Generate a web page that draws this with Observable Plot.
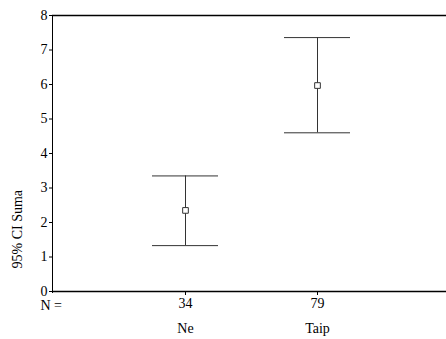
<!DOCTYPE html>
<html>
<head>
<meta charset="utf-8">
<script src="https://cdn.jsdelivr.net/npm/d3@7"></script>
<script src="https://cdn.jsdelivr.net/npm/@observablehq/plot@0.6"></script>
<style>
  html, body { margin: 0; padding: 0; background: #fff; overflow: hidden; }
  #chart svg { display: block; font-family: "Liberation Serif", "Times New Roman", serif; }
</style>
</head>
<body>
<div id="chart"></div>
<script>
const groups = ["Ne", "Taip"];
const nValues = [34, 79];
const means = [2.35, 5.97];
const lower = [1.33, 4.60];
const upper = [3.35, 7.36];
const yTicks = [0, 1, 2, 3, 4, 5, 6, 7, 8];
const yLabel = "95% CI Suma";
const nLabel = "N =";

const data = groups.map((g, i) => ({group: g, n: nValues[i], mean: means[i], lo: lower[i], hi: upper[i]}));
const nByGroup = new Map(groups.map((g, i) => [g, nValues[i]]));

const serif = "Liberation Serif";
const ink = "#333";

const chart = Plot.plot({
  width: 446,
  height: 339,
  marginLeft: 52,
  marginRight: 0,
  marginTop: 15,
  marginBottom: 47,
  style: {fontFamily: serif, fontSize: "14px", color: "#000", background: "#fff"},
  x: {type: "band", domain: groups, range: [52, 449.5], paddingInner: 0.5, paddingOuter: 0.75, align: 0.5},
  y: {domain: [0, 8], range: [291, 15], ticks: yTicks, tickSize: 3, tickPadding: 2, label: null, line: true, tickFormat: d => d, fontSize: 14},
  marks: [
    Plot.ruleY([0, 8], {stroke: "#000", strokeWidth: 1.3}),
    Plot.axisX({tickSize: 3, tickPadding: 3, label: null, tickFormat: g => nByGroup.get(g), fontSize: 14, fontFamily: serif}),
    Plot.axisX({tickSize: 0, tickPadding: 31, label: null, fontSize: 14, fontFamily: serif}),
    Plot.text([nLabel], {frameAnchor: "bottom-left", textAnchor: "start", lineAnchor: "middle", dx: -12, dy: 13, fontSize: 14, fontFamily: serif}),
    Plot.text([yLabel], {frameAnchor: "bottom-left", rotate: -90, textAnchor: "start", lineAnchor: "middle", dx: -35, dy: -24, fontSize: 14, fontFamily: serif}),
    Plot.ruleX(data, {x: "group", y1: "lo", y2: "hi", stroke: ink, strokeWidth: 1}),
    Plot.tickY(data, {x: "group", y: "lo", stroke: ink, strokeWidth: 1}),
    Plot.tickY(data, {x: "group", y: "hi", stroke: ink, strokeWidth: 1}),
    Plot.dot(data, {x: "group", y: "mean", symbol: "square", r: 3.2, stroke: ink, fill: "#fff", strokeWidth: 1})
  ]
});
chart.querySelectorAll("text").forEach(t => t.setAttribute("font-family", serif));
document.getElementById("chart").appendChild(chart);
</script>
</body>
</html>
